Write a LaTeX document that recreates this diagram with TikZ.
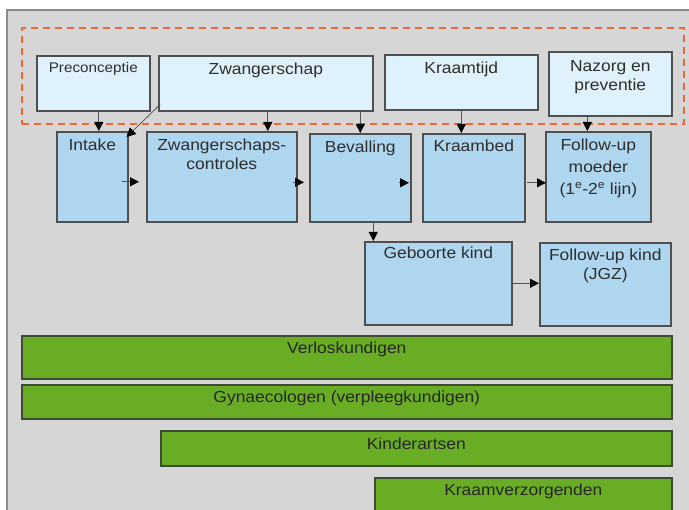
\documentclass[tikz,border=0pt]{standalone}
\usepackage{fontspec}
\setmainfont[FakeStretch=1.09]{Liberation Sans}
\usetikzlibrary{arrows.meta}
\definecolor{bgray}{HTML}{D6D6D6}
\definecolor{framecol}{HTML}{8A8A8A}
\definecolor{topfill}{HTML}{DFF1FB}
\definecolor{lowfill}{HTML}{AED6EF}
\definecolor{grnfill}{HTML}{68AD24}
\definecolor{grnline}{HTML}{3E4A34}
\definecolor{boxline}{HTML}{505050}
\definecolor{dashcol}{HTML}{F0643A}
\definecolor{txtcol}{HTML}{2E2E2E}
\definecolor{arrline}{HTML}{555555}
\begin{document}
\begin{tikzpicture}[x=1pt,y=-1pt,
  box/.style={draw=boxline, line width=1.6pt, inner sep=0pt, anchor=north west},
  topbox/.style={box, fill=topfill},
  lowbox/.style={box, fill=lowfill},
  grnbox/.style={box, fill=grnfill, draw=grnline},
  dashbox/.style={draw=dashcol, line width=2.2pt, dash pattern=on 7pt off 5pt, inner sep=0pt, anchor=north west},
  txt/.style={anchor=north, inner sep=0pt, align=center, text=txtcol, font=\fontsize{16}{19}\selectfont},
  arr/.style={draw=arrline, line width=0.8pt, -{Triangle[length=9pt,width=9pt,color=black]}}
]
\useasboundingbox (0,0) rectangle (689,510);
\fill[white] (0,0) rectangle (689,510);
\fill[bgray] (7,10) rectangle (700,520);
\draw[framecol, line width=1.8pt] (7,520) -- (7,10) -- (700,10);

% phase group
\node[dashbox, minimum width=662pt, minimum height=96pt] (phases) at (21,27) {};

% top row
\node[topbox, minimum width=113pt, minimum height=55pt] (pre) at (36,55) {};
\node[topbox, minimum width=214pt, minimum height=55pt] (zw) at (158,55) {};
\node[topbox, minimum width=153pt, minimum height=55pt] (kt) at (384,54) {};
\node[topbox, minimum width=123pt, minimum height=64pt] (naz) at (548,51) {};

% lower row
\node[lowbox, minimum width=71pt, minimum height=90pt] (intake) at (56,131) {};
\node[lowbox, minimum width=150pt, minimum height=90pt] (zc) at (146,131) {};
\node[lowbox, minimum width=101pt, minimum height=88pt] (bev) at (309,133) {};
\node[lowbox, minimum width=102pt, minimum height=88pt] (kb) at (422,133) {};
\node[lowbox, minimum width=105pt, minimum height=90pt] (fum) at (545,131) {};
\node[lowbox, minimum width=147pt, minimum height=83pt] (gk) at (364,241) {};
\node[lowbox, minimum width=131pt, minimum height=83pt] (fuk) at (539,242) {};

% green bars
\node[grnbox, minimum width=650pt, minimum height=43pt] (ver) at (21,335) {};
\node[grnbox, minimum width=650pt, minimum height=34pt] (gyn) at (21,384) {};
\node[grnbox, minimum width=511pt, minimum height=35pt] (kin) at (160,430) {};
\node[grnbox, minimum width=297pt, minimum height=50pt] (kvz) at (374,477) {};

% texts
\node[txt, font=\fontsize{14}{17}\selectfont] (preT) at ([yshift=-7pt]pre.north) {Preconceptie};
\node[txt] (zwT) at ([yshift=-7.5pt]zw.north) {Zwangerschap};
\node[txt] (ktT) at ([yshift=-7.5pt]kt.north) {Kraamtijd};
\node[txt] (nazT) at ([yshift=-9pt]naz.north) {Nazorg en\\preventie};
\node[txt] (intakeT) at ([yshift=-7.5pt]intake.north) {Intake};
\node[txt] (zcT) at ([yshift=-7.5pt]zc.north) {Zwangerschaps-\\controles};
\node[txt] (bevT) at ([yshift=-7.5pt]bev.north) {Bevalling};
\node[txt] (kbT) at ([yshift=-7pt]kb.north) {Kraambed};
\node[txt, font=\fontsize{16}{22}\selectfont] (fumT) at ([yshift=-8pt]fum.north) {Follow-up\\moeder\\(1\textsuperscript{e}-2\textsuperscript{e} lijn)};
\node[txt] (gkT) at ([yshift=-6pt]gk.north) {Geboorte kind};
\node[txt] (fukT) at ([yshift=-7pt]fuk.north) {Follow-up kind\\(JGZ)};
\node[txt, text=black!85] (verT) at ([yshift=-7pt]ver.north) {Verloskundigen};
\node[txt, text=black!85] (gynT) at ([yshift=-7pt]gyn.north) {Gynaecologen (verpleegkundigen)};
\node[txt, text=black!85] (kinT) at ([yshift=-8pt]kin.north) {Kinderartsen};
\node[txt, text=black!85] (kvzT) at ([yshift=-7pt]kvz.north) {Kraamverzorgenden};

% arrows from phases
\draw[arr] ([xshift=5.5pt]pre.south) -- ([xshift=5.5pt]pre.south |- intake.north);
\draw[arr] ([xshift=2pt,yshift=7pt]zw.south west) -- ([xshift=-2pt,yshift=-6pt]intake.north east);
\draw[arr] ([xshift=2pt]zw.south) -- ([xshift=2pt]zw.south |- zc.north);
\draw[arr] (zw.south -| bev.north) -- (bev.north);
\draw[arr] (kt.south) -- (kt.south |- kb.north);
\draw[arr] ([xshift=-11pt]fum.north |- naz.south) -- ([xshift=-11pt]fum.north);

% flow arrows
\draw[arr] ([xshift=-7pt,yshift=-5pt]intake.east) -- ([xshift=-7pt,yshift=-5pt]intake.east -| zc.west);
\draw[arr] ([xshift=-5pt,yshift=-5.5pt]zc.east) -- ([xshift=-5pt,yshift=-5.5pt]zc.east -| bev.west);
\draw[arr] ([xshift=-13pt,yshift=-5pt]bev.east) -- ([xshift=-13pt,yshift=-5pt]bev.east -| kb.west);
\draw[arr] ([xshift=1pt,yshift=-5pt]kb.east) -- ([xshift=1pt,yshift=-5pt]kb.east -| fum.west);
\draw[arr] ([xshift=13pt]bev.south) -- ([xshift=13pt]bev.south |- gk.north);
\draw[arr] (gk.east) -- (gk.east -| fuk.west);
\end{tikzpicture}
\end{document}
